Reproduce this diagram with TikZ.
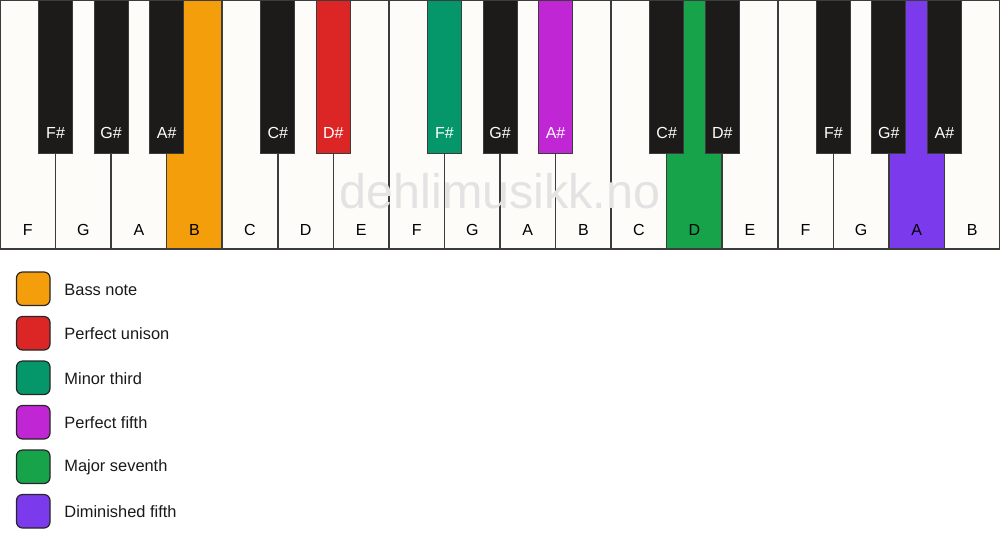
\documentclass[tikz,border=0pt]{standalone}
\usepackage{fontspec}
\setmainfont{Liberation Sans}
\definecolor{keywhite}{HTML}{FDFCF9}
\definecolor{keyblack}{HTML}{1C1B19}
\definecolor{keyline}{HTML}{3C3C3C}
\definecolor{bassorange}{HTML}{F59E0B}
\definecolor{unisonred}{HTML}{DC2626}
\definecolor{minorteal}{HTML}{059669}
\definecolor{fifthmagenta}{HTML}{C026D3}
\definecolor{seventhgreen}{HTML}{16A34A}
\definecolor{dimviolet}{HTML}{7C3AED}
\tikzset{
  whitekey/.style={draw=keyline, line width=1.5, fill=keywhite},
  blackkey/.style={draw=keyline, line width=1, fill=keyblack},
  whitelabel/.style={inner sep=0.75pt, text=black, font=\fontsize{16}{18}\selectfont},
  blacklabel/.style={inner sep=0.75pt, text=white, font=\fontsize{16}{18}\selectfont},
  legendbox/.style={draw=black!85, line width=1.2, rounded corners=6},
  legendtext/.style={anchor=west, inner sep=0.75pt, text=black!90, font=\fontsize{16.4}{18}\selectfont}
}
\begin{document}
\begin{tikzpicture}[x=1pt,y=1pt,yscale=-1,xscale=1]
\useasboundingbox (0,0) rectangle (1000,550);

%White Keys
\draw [whitekey] (0,0) rectangle (55.56,249) ;
\draw [whitekey] (55.56,0) rectangle (111.11,249) ;
\draw [whitekey] (111.11,0) rectangle (166.67,249) ;
\draw [whitekey, fill=bassorange] (166.67,0) rectangle (222.22,249) ;
\draw [whitekey] (222.22,0) rectangle (277.78,249) ;
\draw [whitekey] (277.78,0) rectangle (333.33,249) ;
\draw [whitekey] (333.33,0) rectangle (388.89,249) ;
\draw [whitekey] (388.89,0) rectangle (444.44,249) ;
\draw [whitekey] (444.44,0) rectangle (500,249) ;
\draw [whitekey] (500,0) rectangle (555.56,249) ;
\draw [whitekey] (555.56,0) rectangle (611.11,249) ;
\draw [whitekey] (611.11,0) rectangle (666.67,249) ;
\draw [whitekey, fill=seventhgreen] (666.67,0) rectangle (722.22,249) ;
\draw [whitekey] (722.22,0) rectangle (777.78,249) ;
\draw [whitekey] (777.78,0) rectangle (833.33,249) ;
\draw [whitekey] (833.33,0) rectangle (888.89,249) ;
\draw [whitekey, fill=dimviolet] (888.89,0) rectangle (944.44,249) ;
\draw [whitekey] (944.44,0) rectangle (1000,249) ;

% Watermark
\node (mark) [text=black!11, inner sep=0pt, font=\fontsize{48.5}{50}\selectfont] at (500,191.5) {dehlimusikk.no};

%Black Keys
\draw [blackkey] (38.56,0) rectangle (72.56,153) ;
\draw [blackkey] (94.11,0) rectangle (128.11,153) ;
\draw [blackkey] (149.67,0) rectangle (183.67,153) ;
\draw [blackkey] (260.78,0) rectangle (294.78,153) ;
\draw [blackkey, fill=unisonred] (316.33,0) rectangle (350.33,153) ;
\draw [blackkey, fill=minorteal] (427.44,0) rectangle (461.44,153) ;
\draw [blackkey] (483,0) rectangle (517,153) ;
\draw [blackkey, fill=fifthmagenta] (538.56,0) rectangle (572.56,153) ;
\draw [blackkey] (649.67,0) rectangle (683.67,153) ;
\draw [blackkey] (705.22,0) rectangle (739.22,153) ;
\draw [blackkey] (816.33,0) rectangle (850.33,153) ;
\draw [blackkey] (871.89,0) rectangle (905.89,153) ;
\draw [blackkey] (927.44,0) rectangle (961.44,153) ;

% White Key Labels
\node (wF1) [whitelabel] at (27.78,230) {F};
\node (wG1) [whitelabel] at (83.33,230) {G};
\node (wA1) [whitelabel] at (138.89,230) {A};
\node (wB1) [whitelabel] at (194.44,230) {B};
\node (wC1) [whitelabel] at (250,230) {C};
\node (wD1) [whitelabel] at (305.56,230) {D};
\node (wE1) [whitelabel] at (361.11,230) {E};
\node (wF2) [whitelabel] at (416.67,230) {F};
\node (wG2) [whitelabel] at (472.22,230) {G};
\node (wA2) [whitelabel] at (527.78,230) {A};
\node (wB2) [whitelabel] at (583.33,230) {B};
\node (wC2) [whitelabel] at (638.89,230) {C};
\node (wD2) [whitelabel] at (694.44,230) {D};
\node (wE2) [whitelabel] at (750,230) {E};
\node (wF3) [whitelabel] at (805.56,230) {F};
\node (wG3) [whitelabel] at (861.11,230) {G};
\node (wA3) [whitelabel] at (916.67,230) {A};
\node (wB3) [whitelabel] at (972.22,230) {B};

% Black Key Labels
\node (bF1) [blacklabel] at (55.56,133) {F\#};
\node (bG1) [blacklabel] at (111.11,133) {G\#};
\node (bA1) [blacklabel] at (166.67,133) {A\#};
\node (bC1) [blacklabel] at (277.78,133) {C\#};
\node (bD1) [blacklabel] at (333.33,133) {D\#};
\node (bF2) [blacklabel] at (444.44,133) {F\#};
\node (bG2) [blacklabel] at (500,133) {G\#};
\node (bA2) [blacklabel] at (555.56,133) {A\#};
\node (bC2) [blacklabel] at (666.67,133) {C\#};
\node (bD2) [blacklabel] at (722.22,133) {D\#};
\node (bF3) [blacklabel] at (833.33,133) {F\#};
\node (bG3) [blacklabel] at (888.89,133) {G\#};
\node (bA3) [blacklabel] at (944.44,133) {A\#};

%Legend
\draw [legendbox, fill=bassorange] (16.5,272) rectangle (50,305.5) ;
\node (bass) [legendtext] at (63.5,289.5) {Bass note};
\draw [legendbox, fill=unisonred] (16.5,316.5) rectangle (50,350) ;
\node (unison) [legendtext] at (63.5,334) {Perfect unison};
\draw [legendbox, fill=minorteal] (16.5,361) rectangle (50,394.5) ;
\node (minor) [legendtext] at (63.5,378.5) {Minor third};
\draw [legendbox, fill=fifthmagenta] (16.5,405.5) rectangle (50,439) ;
\node (fifth) [legendtext] at (63.5,423) {Perfect fifth};
\draw [legendbox, fill=seventhgreen] (16.5,450) rectangle (50,483.5) ;
\node (seventh) [legendtext] at (63.5,467.5) {Major seventh};
\draw [legendbox, fill=dimviolet] (16.5,494.5) rectangle (50,528) ;
\node (dim) [legendtext] at (63.5,512) {Diminished fifth};

\end{tikzpicture}
\end{document}
